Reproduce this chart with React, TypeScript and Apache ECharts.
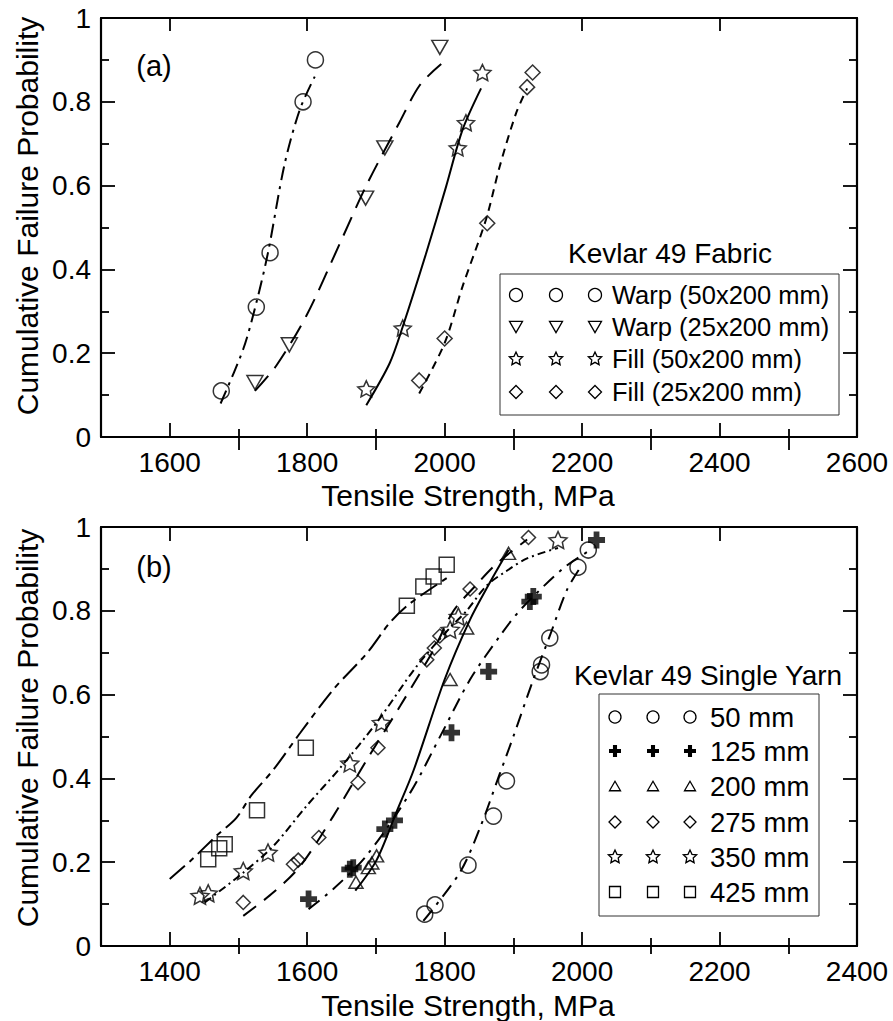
import React, { useEffect, useRef } from "react";
import * as echarts from "echarts";

const FONT = "'Liberation Sans', Arial, Helvetica, sans-serif";

// ---------- Panel (a): Kevlar 49 Fabric ----------
const fabricXMajor = [1600, 1800, 2000, 2200, 2400, 2600];
const fabricXMinor = [1700, 1900, 2100, 2300, 2500];
const warp50 = [[1675, 0.11], [1726, 0.31], [1746, 0.44], [1794, 0.8], [1812, 0.9]];
const warp25 = [[1724, 0.13], [1774, 0.22], [1885, 0.57], [1913, 0.69], [1993, 0.93]];
const fill50 = [[1886, 0.115], [1939, 0.26], [2019, 0.69], [2031, 0.75], [2055, 0.87]];
const fill25 = [[1963, 0.135], [2000, 0.235], [2062, 0.51], [2120, 0.835], [2128, 0.87]];
const warp50Fit = [[1674, 0.08], [1707, 0.21], [1726, 0.32], [1743, 0.44], [1767, 0.65], [1789, 0.78], [1811, 0.86]];
const warp25Fit = [[1724, 0.11], [1755, 0.17], [1799, 0.29], [1847, 0.46], [1886, 0.6], [1934, 0.75], [1964, 0.84], [1995, 0.89]];
const fill50Fit = [[1886, 0.076], [1920, 0.176], [1939, 0.263], [1973, 0.438], [2002, 0.597], [2026, 0.733], [2053, 0.832]];
const fill25Fit = [[1963, 0.104], [2000, 0.224], [2026, 0.359], [2060, 0.518], [2080, 0.645], [2104, 0.773], [2120, 0.832]];

// ---------- Panel (b): Kevlar 49 Single Yarn ----------
const yarnXMajor = [1400, 1600, 1800, 2000, 2200, 2400];
const yarnXMinor = [1500, 1700, 1900, 2100, 2300];
const yarn50 = [[1771, 0.076], [1786, 0.098], [1834, 0.193], [1871, 0.31], [1890, 0.394], [1939, 0.655], [1941, 0.671], [1953, 0.735], [1994, 0.904], [2009, 0.945]];
const yarn125 = [[1602, 0.112], [1662, 0.183], [1667, 0.187], [1713, 0.279], [1727, 0.3], [1810, 0.509], [1864, 0.655], [1924, 0.822], [1929, 0.834], [2021, 0.969]];
const yarn200 = [[1671, 0.152], [1689, 0.187], [1694, 0.198], [1701, 0.215], [1808, 0.636], [1832, 0.759], [1893, 0.937]];
const yarn275 = [[1507, 0.104], [1580, 0.195], [1587, 0.205], [1617, 0.259], [1674, 0.39], [1703, 0.473], [1774, 0.683], [1785, 0.711], [1793, 0.74], [1837, 0.852], [1922, 0.975]];
const yarn350 = [[1444, 0.12], [1456, 0.126], [1507, 0.179], [1543, 0.223], [1662, 0.436], [1708, 0.533], [1808, 0.755], [1820, 0.786], [1965, 0.969]];
const yarn425 = [[1456, 0.207], [1472, 0.233], [1480, 0.243], [1527, 0.324], [1598, 0.473], [1745, 0.812], [1769, 0.858], [1784, 0.882], [1803, 0.91]];
const yarn50Fit = [[1769, 0.06], [1822, 0.175], [1851, 0.28], [1880, 0.41], [1900, 0.5], [1929, 0.636], [1953, 0.74], [1978, 0.85], [1997, 0.902]];
const yarn125Fit = [[1602, 0.088], [1638, 0.136], [1686, 0.215], [1750, 0.366], [1795, 0.505], [1837, 0.636], [1880, 0.739], [1910, 0.802], [1973, 0.902], [2012, 0.945]];
const yarn200Fit = [[1670, 0.132], [1701, 0.205], [1730, 0.32], [1755, 0.42], [1800, 0.636], [1837, 0.779], [1865, 0.865], [1893, 0.945]];
const yarn275Fit = [[1507, 0.072], [1551, 0.128], [1590, 0.191], [1638, 0.31], [1687, 0.445], [1735, 0.572], [1784, 0.707], [1813, 0.8], [1845, 0.86], [1876, 0.913], [1920, 0.97]];
const yarn350Fit = [[1451, 0.104], [1507, 0.175], [1551, 0.239], [1599, 0.334], [1648, 0.425], [1701, 0.533], [1759, 0.667], [1808, 0.76], [1832, 0.8], [1861, 0.86], [1890, 0.895], [1920, 0.925], [1965, 0.95]];
const yarn425Fit = [[1400, 0.16], [1430, 0.203], [1468, 0.263], [1497, 0.306], [1519, 0.36], [1551, 0.421], [1590, 0.509], [1638, 0.612], [1687, 0.699], [1720, 0.771], [1750, 0.818], [1803, 0.878]];

const fabricLabels = ["Warp (50x200 mm)", "Warp (25x200 mm)", "Fill (50x200 mm)", "Fill (25x200 mm)"];
const yarnLabels = ["50 mm", "125 mm", "200 mm", "275 mm", "350 mm", "425 mm"];

// ---------- marker geometry (unit shapes centred on 0, extent 1) ----------
type Pt = [number, number];
const starUnit: Pt[] = Array.from({ length: 10 }, (_, i) => {
  const a = -Math.PI / 2 + (i * Math.PI) / 5;
  const r = i % 2 === 0 ? 0.5 : 0.24;
  return [r * Math.cos(a), r * Math.sin(a)] as Pt;
});
const t = 0.17;
const plusUnit: Pt[] = [[-t, -0.5], [t, -0.5], [t, -t], [0.5, -t], [0.5, t], [t, t], [t, 0.5], [-t, 0.5], [-t, t], [-0.5, t], [-0.5, -t], [-t, -t]];
const triDownUnit: Pt[] = [[-0.5, -0.43], [0.5, -0.43], [0, 0.43]];
const triUpUnit: Pt[] = [[0, -0.43], [0.5, 0.43], [-0.5, 0.43]];
const diamondUnit: Pt[] = [[0, -0.5], [0.5, 0], [0, 0.5], [-0.5, 0]];

const toPath = (pts: Pt[]) =>
  "path://M" + pts.map((p) => `${(p[0] * 100).toFixed(2)},${(p[1] * 100).toFixed(2)}`).join(" L") + " Z";

const unitFor: Record<string, Pt[]> = {
  star: starUnit,
  plus: plusUnit,
  triDown: triDownUnit,
  triUp: triUpUnit,
  diamond: diamondUnit,
};

function markerGraphic(shape: string, cx: number, cy: number, size: number) {
  const stroke = { stroke: "#000", lineWidth: 1.3, fill: "none" };
  if (shape === "circle") return { type: "circle", shape: { cx, cy, r: size / 2 }, style: stroke };
  if (shape === "square")
    return { type: "rect", shape: { x: cx - size / 2, y: cy - size / 2, width: size, height: size }, style: stroke };
  const pts = unitFor[shape].map((p) => [cx + p[0] * size, cy + p[1] * size]);
  if (shape === "plus") return { type: "polygon", shape: { points: pts }, style: { fill: "#000" } };
  return { type: "polygon", shape: { points: pts }, style: stroke };
}

function text(str: string, x: number, y: number, size: number, align = "center", rotation = 0) {
  return {
    type: "text",
    x,
    y,
    rotation,
    style: { text: str, fontSize: size, fontFamily: FONT, fill: "#000", align, verticalAlign: "middle" },
  };
}

const plain = (v: number) => String(v);

function xAxes(grid: number, min: number, max: number, majors: number[], minors: number[], uniformTop: boolean) {
  const line = { show: true, onZero: false, lineStyle: { color: "#000", width: 2.2 } };
  const tickStyle = { color: "#000", width: 1.8 };
  const base = { type: "value", gridIndex: grid, min, max, splitLine: { show: false } };
  return [
    {
      ...base,
      position: "bottom",
      axisLine: line,
      axisTick: { show: true, inside: true, length: 14, customValues: majors, lineStyle: tickStyle },
      axisLabel: { show: true, customValues: majors, formatter: plain, margin: 11, fontSize: 28, fontFamily: FONT, color: "#000" },
    },
    {
      ...base,
      position: "bottom",
      axisLine: { show: false },
      axisTick: { show: true, inside: true, length: 8, customValues: minors, lineStyle: tickStyle },
      axisLabel: { show: false },
    },
    {
      ...base,
      position: "top",
      axisLine: line,
      axisTick: { show: true, inside: true, length: uniformTop ? 13 : 14, customValues: majors, lineStyle: tickStyle },
      axisLabel: { show: false },
    },
    {
      ...base,
      position: "top",
      axisLine: { show: false },
      axisTick: { show: true, inside: true, length: uniformTop ? 13 : 8, customValues: minors, lineStyle: tickStyle },
      axisLabel: { show: false },
    },
  ];
}

function yAxes(grid: number) {
  const common = {
    type: "value",
    gridIndex: grid,
    min: 0,
    max: 1,
    interval: 0.2,
    splitLine: { show: false },
    axisLine: { show: true, onZero: false, lineStyle: { color: "#000", width: 2.2 } },
    axisTick: { show: true, inside: true, length: 14, lineStyle: { color: "#000", width: 1.8 } },
    minorTick: { show: true, splitNumber: 2, length: 8, lineStyle: { color: "#000", width: 1.8 } },
  };
  return [
    { ...common, position: "left", axisLabel: { show: true, margin: 10, fontSize: 28, fontFamily: FONT, color: "#000" } },
    { ...common, position: "right", axisLabel: { show: false } },
  ];
}

function fitLine(data: number[][], dash: any, xi: number, yi: number) {
  return {
    type: "line",
    data,
    xAxisIndex: xi,
    yAxisIndex: yi,
    symbol: "none",
    showSymbol: false,
    smooth: 0.3,
    silent: true,
    z: 2,
    lineStyle: { color: "#000", width: 2, type: dash },
  };
}

function points(name: string, data: number[][], symbol: string, size: any, xi: number, yi: number, filled = false) {
  return {
    type: "scatter",
    name,
    data,
    xAxisIndex: xi,
    yAxisIndex: yi,
    symbol,
    symbolSize: size,
    z: 3,
    silent: true,
    itemStyle: filled
      ? { color: "#000", borderWidth: 0 }
      : { color: "rgba(0,0,0,0)", borderColor: "#000", borderWidth: 1.5 },
  };
}

export default function App() {
  const ref = useRef<HTMLDivElement>(null);
  useEffect(() => {
    if (!ref.current) return;
    const chart = echarts.init(ref.current, null, { renderer: "svg" });

    const graphic: any[] = [];
    graphic.push(text("(a)", 154, 66, 29));
    graphic.push(text("(b)", 154, 567, 29));
    graphic.push(text("Tensile Strength, MPa", 468, 495, 30));
    graphic.push(text("Tensile Strength, MPa", 468, 1005, 30));
    graphic.push(text("Cumulative Failure Probability", 27, 216, 30, "center", Math.PI / 2));
    graphic.push(text("Cumulative Failure Probability", 27, 728, 30, "center", Math.PI / 2));

    // legend (a)
    graphic.push(text("Kevlar 49 Fabric", 670, 253, 28));
    graphic.push({ type: "rect", shape: { x: 500, y: 274, width: 339, height: 141 }, style: { fill: "#fff", stroke: "#333", lineWidth: 1 }, z: 10 });
    const fabShapes = [["circle", 13], ["triDown", 13], ["star", 14], ["diamond", 13]] as [string, number][];
    const fabRows = [295, 327, 359, 392];
    fabShapes.forEach(([s, sz], i) => {
      [516, 556, 595].forEach((cx) => graphic.push({ ...markerGraphic(s, cx, fabRows[i], sz), z: 11 }));
      graphic.push({ ...text(fabricLabels[i], 612, fabRows[i], 25.5, "left"), z: 11 });
    });

    // legend (b)
    graphic.push(text("Kevlar 49 Single Yarn", 708, 675, 28));
    graphic.push({ type: "rect", shape: { x: 599, y: 694, width: 220, height: 222 }, style: { fill: "#fff", stroke: "#333", lineWidth: 1 }, z: 10 });
    const yarnShapes = [["circle", 12], ["plus", 12], ["triUp", 11], ["diamond", 12], ["star", 14], ["square", 11]] as [string, number][];
    const yarnRows = [717, 751, 786, 822, 857, 892];
    yarnShapes.forEach(([s, sz], i) => {
      [615, 653, 690].forEach((cx) => graphic.push({ ...markerGraphic(s, cx, yarnRows[i], sz), z: 11 }));
      graphic.push({ ...text(yarnLabels[i], 710, yarnRows[i], 27.5, "left"), z: 11 });
    });

    const option: any = {
      animation: false,
      backgroundColor: "#fff",
      grid: [
        { left: 101, top: 18, width: 756, height: 419, containLabel: false },
        { left: 101, top: 527, width: 756, height: 419, containLabel: false },
      ],
      xAxis: [
        ...xAxes(0, 1500, 2600, fabricXMajor, fabricXMinor, true),
        ...xAxes(1, 1300, 2400, yarnXMajor, yarnXMinor, false),
      ],
      yAxis: [...yAxes(0), ...yAxes(1)],
      series: [
        fitLine(warp50Fit, [14, 6, 3, 6], 0, 0),
        fitLine(warp25Fit, [20, 10], 0, 0),
        fitLine(fill50Fit, "solid", 0, 0),
        fitLine(fill25Fit, [8, 6], 0, 0),
        points(fabricLabels[0], warp50, "circle", 16, 0, 0),
        points(fabricLabels[1], warp25, toPath(triDownUnit), [16, 14], 0, 0),
        points(fabricLabels[2], fill50, toPath(starUnit), [17, 16], 0, 0),
        points(fabricLabels[3], fill25, "diamond", 15, 0, 0),

        fitLine(yarn50Fit, [14, 7, 3, 7], 4, 2),
        fitLine(yarn125Fit, [14, 7, 3, 7], 4, 2),
        fitLine(yarn200Fit, "solid", 4, 2),
        fitLine(yarn275Fit, [16, 10], 4, 2),
        fitLine(yarn350Fit, [8, 4, 2, 4], 4, 2),
        fitLine(yarn425Fit, [20, 6, 6, 6], 4, 2),
        points(yarnLabels[0], yarn50, "circle", 16, 4, 2),
        points(yarnLabels[1], yarn125, toPath(plusUnit), 17, 4, 2, true),
        points(yarnLabels[2], yarn200, "triangle", [14, 12], 4, 2),
        points(yarnLabels[3], yarn275, "diamond", 14, 4, 2),
        points(yarnLabels[4], yarn350, toPath(starUnit), [18, 17], 4, 2),
        points(yarnLabels[5], yarn425, "rect", 15, 4, 2),
      ],
      graphic,
    };
    chart.setOption(option);
    return () => chart.dispose();
  }, []);

  return (
    <div
      ref={ref}
      style={{ position: "absolute", left: 0, top: 0, width: 893, height: 1021, background: "#fff" }}
    />
  );
}
